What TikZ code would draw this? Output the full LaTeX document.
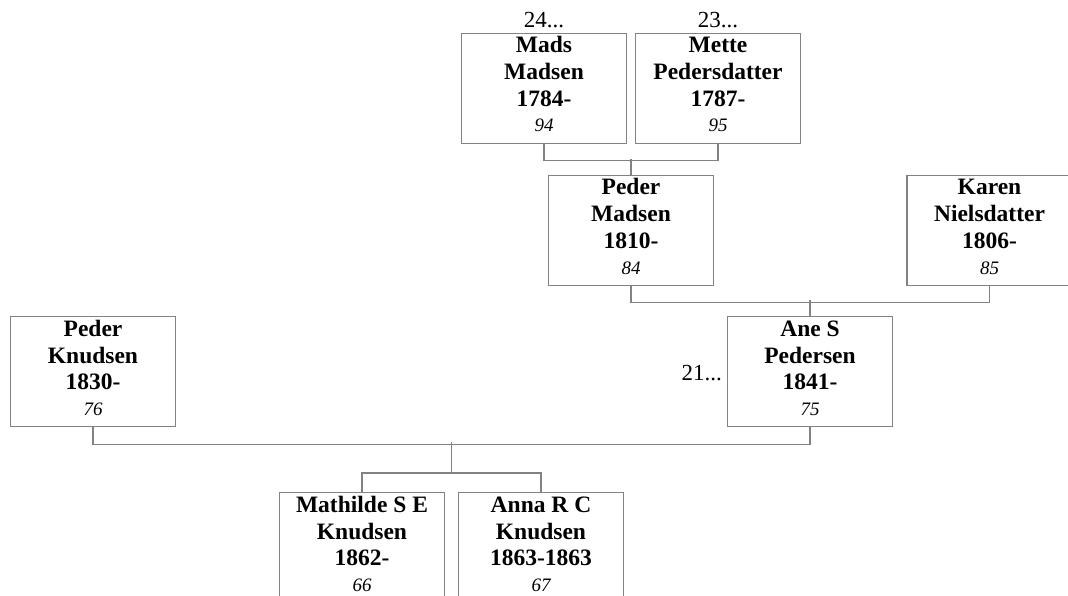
\documentclass[tikz,border=0pt]{standalone}
\usepackage{fontspec}
\setmainfont{Liberation Serif}
\definecolor{ln}{RGB}{130,130,130}
\tikzset{
 pbox/.style={draw=ln, line width=1.3pt, minimum width=165pt, minimum height=110pt, inner sep=0pt, anchor=north},
 nm/.style={font=\fontsize{23.5}{26}\selectfont\bfseries, anchor=base, inner sep=0pt},
 num/.style={font=\fontsize{19}{22}\selectfont\itshape, anchor=base, inner sep=0pt},
 lbl/.style={font=\fontsize{23}{26}\selectfont, anchor=base, inner sep=0pt},
 conn/.style={draw=ln, line width=1.3pt},
}
\newcommand\person[7]{%
 \node[pbox] (#1) at (#2,#3) {};
 \node[nm] (#1-a) at ([yshift=-20pt]#1.north) {#4};
 \node[nm] (#1-b) at ([yshift=-47pt]#1.north) {#5};
 \node[nm] (#1-c) at ([yshift=-73.5pt]#1.north) {#6};
 \node[num] (#1-d) at ([yshift=-99pt]#1.north) {#7};
}
\begin{document}
\begin{tikzpicture}[x=1pt,y=-1pt]
\useasboundingbox (0,0) rectangle (1068,596);
\clip (0,0) rectangle (1068,596);
\person{mads}{544}{33}{Mads}{Madsen}{1784-}{94}
\person{mette}{718}{33}{Mette}{Pedersdatter}{1787-}{95}
\person{pmad}{631}{175}{Peder}{Madsen}{1810-}{84}
\person{karen}{989.5}{175}{Karen}{Nielsdatter}{1806-}{85}
\person{pknud}{93}{316}{Peder}{Knudsen}{1830-}{76}
\person{ane}{810}{316}{Ane S}{Pedersen}{1841-}{75}
\person{math}{362}{492}{Mathilde S E}{Knudsen}{1862-}{66}
\person{anna}{541}{492}{Anna R C}{Knudsen}{1863-1863}{67}
\node[lbl] (l24) at ([yshift=5pt]mads.north) {24...};
\node[lbl] (l23) at ([yshift=5pt]mette.north) {23...};
\node[lbl, anchor=base east] (l21) at (722,380) {21...};
\draw[conn] (mads.south) -- ++(0,16) -| (mette.south);
\draw[conn] (pmad.north) -- ++(0,-16);
\draw[conn] (pmad.south) -- ++(0,16) -| (karen.south);
\draw[conn] (ane.north) -- ++(0,-16);
\draw[conn] (pknud.south) -- ++(0,17) -| (ane.south);
\coordinate (fam) at (451.5,442);
\coordinate (kids) at (451.5,473);
\draw[conn] (fam) -- (kids);
\draw[conn] (math.north) -- ++(0,-19) -| (anna.north);
\end{tikzpicture}
\end{document}
